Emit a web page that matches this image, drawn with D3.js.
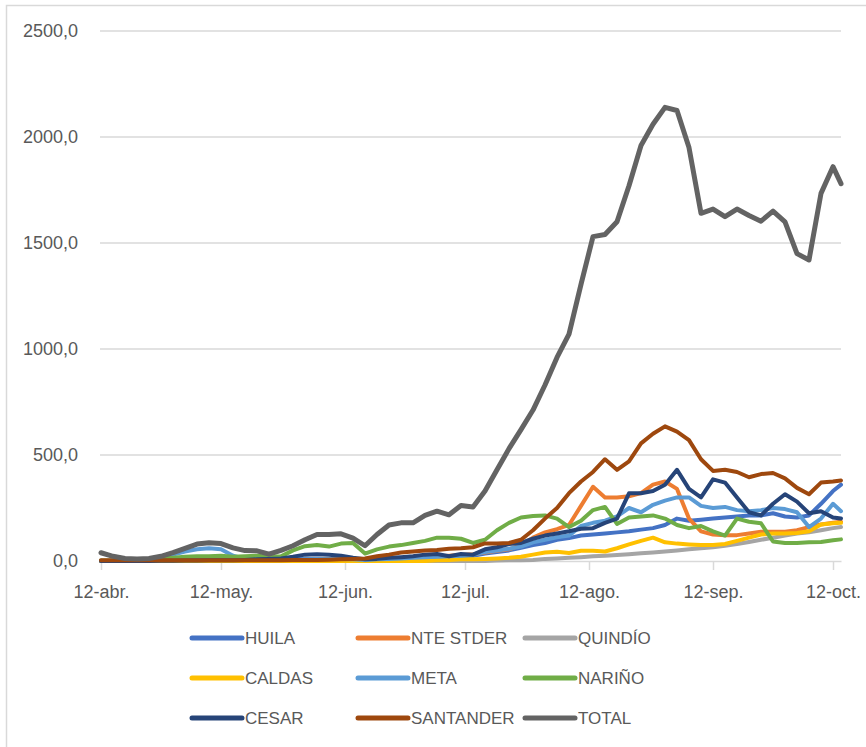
<!DOCTYPE html>
<html>
<head>
<meta charset="utf-8">
<script src="https://cdn.jsdelivr.net/npm/d3@7"></script>
<style>
  body { margin: 0; background: #fff; }
  svg { display: block; font-family: "Liberation Sans", Arial, sans-serif; }
</style>
</head>
<body>
<div class="chart"></div>
<script>
// day offsets from 12-abr (sampled every 3 days, last point 14-oct)
const dayOffsets = [0, 3, 6, 9, 12, 15, 18, 21, 24, 27, 30, 33, 36, 39, 42, 45, 48, 51, 54, 57,
  60, 63, 66, 69, 72, 75, 78, 81, 84, 87, 90, 93, 96, 99, 102, 105, 108, 111, 114, 117,
  120, 123, 126, 129, 132, 135, 138, 141, 144, 147, 150, 153, 156, 159, 162, 165, 168, 171, 174, 177,
  180, 183, 185];

const huila = [0, 0, 0, 0, 2, 3, 5, 5, 8, 8, 8, 6, 5, 5, 5, 5, 8, 10, 10, 10,
  8, 6, 5, 6, 8, 10, 12, 15, 18, 20, 22, 25, 35, 42, 50, 62, 75, 85, 100, 108,
  120, 125, 130, 135, 140, 148, 155, 170, 200, 190, 195, 200, 205, 210, 215, 215, 225, 210, 205, 215,
  270, 330, 360];

const nteStder = [0, 0, 0, 0, 0, 0, 0, 0, 0, 0, 0, 0, 0, 0, 0, 0, 2, 3, 3, 4,
  5, 5, 6, 8, 10, 12, 15, 18, 22, 25, 28, 32, 40, 48, 55, 75, 110, 135, 150, 170,
  260, 350, 300, 300, 305, 320, 360, 375, 340, 200, 140, 125, 122, 122, 130, 138, 138, 138, 145, 160,
  172, 180, 185];

const quindio = [0, 0, 0, 0, 0, 0, 0, 0, 0, 0, 0, 0, 0, 0, 0, 0, 0, 0, 0, 0,
  0, 0, 0, 0, 0, 0, 0, 0, 0, 0, 0, 0, 0, 2, 3, 4, 5, 10, 12, 15,
  18, 22, 25, 28, 32, 36, 40, 45, 50, 55, 60, 65, 72, 80, 90, 100, 110, 120, 130, 135,
  145, 155, 160];

const caldas = [0, 0, 0, 0, 0, 0, 0, 0, 0, 0, 0, 0, 0, 0, 0, 0, 0, 0, 0, 0,
  0, 0, 0, 0, 0, 0, 0, 0, 3, 5, 8, 8, 10, 12, 15, 20, 30, 40, 44, 38,
  48, 48, 45, 60, 78, 95, 110, 88, 82, 78, 75, 75, 80, 95, 110, 125, 130, 130, 132, 140,
  172, 178, 180];

const meta = [0, 0, 1, 2, 5, 15, 30, 45, 55, 60, 55, 25, 10, 8, 5, 5, 5, 8, 10, 10,
  10, 8, 5, 8, 10, 12, 15, 18, 20, 22, 25, 30, 42, 50, 58, 68, 88, 100, 112, 120,
  165, 180, 190, 210, 250, 230, 265, 285, 300, 300, 260, 250, 255, 240, 235, 240, 250, 245, 230, 160,
  200, 270, 235];

const narino = [2, 2, 3, 5, 8, 12, 15, 20, 22, 22, 25, 20, 22, 25, 20, 22, 50, 70, 75, 68,
  82, 85, 35, 55, 68, 75, 85, 95, 110, 110, 105, 85, 100, 145, 180, 205, 212, 215, 200, 160,
  190, 240, 255, 175, 205, 210, 215, 200, 170, 155, 165, 140, 120, 200, 185, 178, 92, 85, 85, 88,
  90, 98, 102];

const cesar = [0, 0, 0, 0, 0, 1, 1, 2, 2, 3, 3, 3, 5, 8, 10, 12, 20, 30, 32, 30,
  25, 15, 8, 10, 15, 18, 22, 30, 33, 22, 33, 30, 55, 65, 80, 85, 105, 120, 130, 140,
  152, 155, 180, 200, 319, 320, 330, 360, 430, 340, 300, 385, 370, 300, 230, 215, 270, 315, 280, 225,
  235, 205, 200];

const santander = [3, 3, 3, 3, 3, 3, 3, 3, 3, 3, 3, 3, 4, 4, 4, 4, 5, 5, 5, 6,
  8, 10, 12, 22, 30, 40, 45, 50, 52, 58, 60, 65, 83, 83, 85, 100, 145, 200, 250, 320,
  375, 420, 480, 430, 470, 555, 600, 635, 610, 570, 480, 425, 430, 420, 395, 410, 415, 390, 345, 315,
  370, 375, 380];

const total = [39, 22, 12, 9, 12, 22, 40, 60, 80, 86, 82, 62, 49, 48, 32, 50, 72, 100, 125, 125,
  128, 108, 72, 125, 170, 180, 180, 215, 235, 218, 262, 255, 330, 430, 530, 620, 712, 830, 960, 1070,
  1305, 1530, 1540, 1600, 1770, 1960, 2060, 2140, 2125, 1950, 1640, 1660, 1624, 1660, 1630, 1603, 1650, 1600, 1450, 1420,
  1734, 1860, 1780];

const seriesNames = ['HUILA', 'NTE STDER', 'QUINDÍO', 'CALDAS', 'META', 'NARIÑO', 'CESAR', 'SANTANDER', 'TOTAL'];
const seriesValues = [huila, nteStder, quindio, caldas, meta, narino, cesar, santander, total];
const seriesColors = ['#4472C4', '#ED7D31', '#A5A5A5', '#FFC000', '#5B9BD5', '#70AD47', '#264478', '#9E480E', '#636363'];

const yTicks = [0, 500, 1000, 1500, 2000, 2500];
const monthLabels = ['abr.', 'may.', 'jun.', 'jul.', 'ago.', 'sep.', 'oct.'];

const startDate = new Date(2020, 3, 12);
const dates = dayOffsets.map(d => d3.timeDay.offset(startDate, d));
const xTicks = monthLabels.map((m, i) => d3.timeMonth.offset(startDate, i));

const width = 866;
const height = 747;
const margin = {top: 31, right: 25, bottom: 186, left: 101};
const textColor = '#595959';

const svg = d3.select('.chart')
              .append('svg:svg')
              .attr('width', width)
              .attr('height', height);

svg.append('svg:rect')
   .attr('x', 6.5)
   .attr('y', 5.5)
   .attr('width', 900)
   .attr('height', 800)
   .attr('fill', '#fff')
   .attr('stroke', '#D9D9D9')
   .attr('stroke-width', 1.5);

const x = d3.scaleTime()
            .domain([startDate, dates[dates.length - 1]])
            .range([margin.left, width - margin.right]);

const y = d3.scaleLinear()
            .domain([0, 2500])
            .range([height - margin.bottom, margin.top]);

const fmt = d3.formatLocale({decimal: ',', thousands: '', grouping: [3], currency: ['', '']}).format('.1f');

// gridlines
svg.append('svg:g')
   .selectAll('line')
   .data(yTicks.slice(1))
   .enter().append('svg:line')
   .attr('x1', margin.left - 1)
   .attr('x2', width - margin.right)
   .attr('y1', d => y(d))
   .attr('y2', d => y(d))
   .attr('stroke', '#D9D9D9')
   .attr('stroke-width', 1.5);

const yAxis = g => g
  .attr('transform', `translate(${margin.left - 20},0)`)
  .call(d3.axisLeft(y).tickValues(yTicks).tickSize(0).tickFormat(fmt))
  .call(g => g.select('.domain').remove())
  .call(g => g.selectAll('text')
              .attr('fill', textColor)
              .attr('font-size', 18)
              .attr('font-family', '"Liberation Sans", Arial, sans-serif'));

const xAxis = g => g
  .attr('transform', `translate(0,${height - margin.bottom})`)
  .call(d3.axisBottom(x).tickValues(xTicks).tickSizeInner(9).tickSizeOuter(0)
          .tickFormat((d, i) => `12-${monthLabels[i]}`))
  .call(g => g.select('.domain').attr('stroke', '#D9D9D9').attr('stroke-width', 1.5))
  .call(g => g.selectAll('.tick line').attr('stroke', '#D9D9D9').attr('stroke-width', 1.5))
  .call(g => g.selectAll('text')
              .attr('fill', textColor)
              .attr('font-size', 18)
              .attr('dy', '1.4em')
              .attr('font-family', '"Liberation Sans", Arial, sans-serif'));

svg.append('svg:g').call(yAxis);
svg.append('svg:g').call(xAxis);

const line = d3.line()
               .x((d, i) => x(dates[i]))
               .y(d => y(d));

svg.append('svg:g')
   .selectAll('path')
   .data(seriesValues)
   .enter().append('svg:path')
   .attr('d', d => line(d))
   .attr('fill', 'none')
   .attr('stroke', (d, i) => seriesColors[i])
   .attr('stroke-width', (d, i) => i === 8 ? 5 : 4)
   .attr('stroke-linejoin', 'round')
   .attr('stroke-linecap', 'round');

// legend, 3 columns x 3 rows
const colX = [192, 358, 525];
const legend = svg.append('svg:g')
   .selectAll('g')
   .data(seriesNames)
   .enter().append('svg:g')
   .attr('transform', (d, i) => `translate(${colX[i % 3]},${638 + Math.floor(i / 3) * 40})`);

legend.append('svg:line')
      .attr('x1', 0)
      .attr('x2', 50)
      .attr('stroke', (d, i) => seriesColors[i])
      .attr('stroke-width', 5)
      .attr('stroke-linecap', 'round');

legend.append('svg:text')
      .attr('x', 53)
      .attr('dy', '0.36em')
      .attr('fill', textColor)
      .attr('font-size', 17)
      .text(d => d);
</script>
</body>
</html>
